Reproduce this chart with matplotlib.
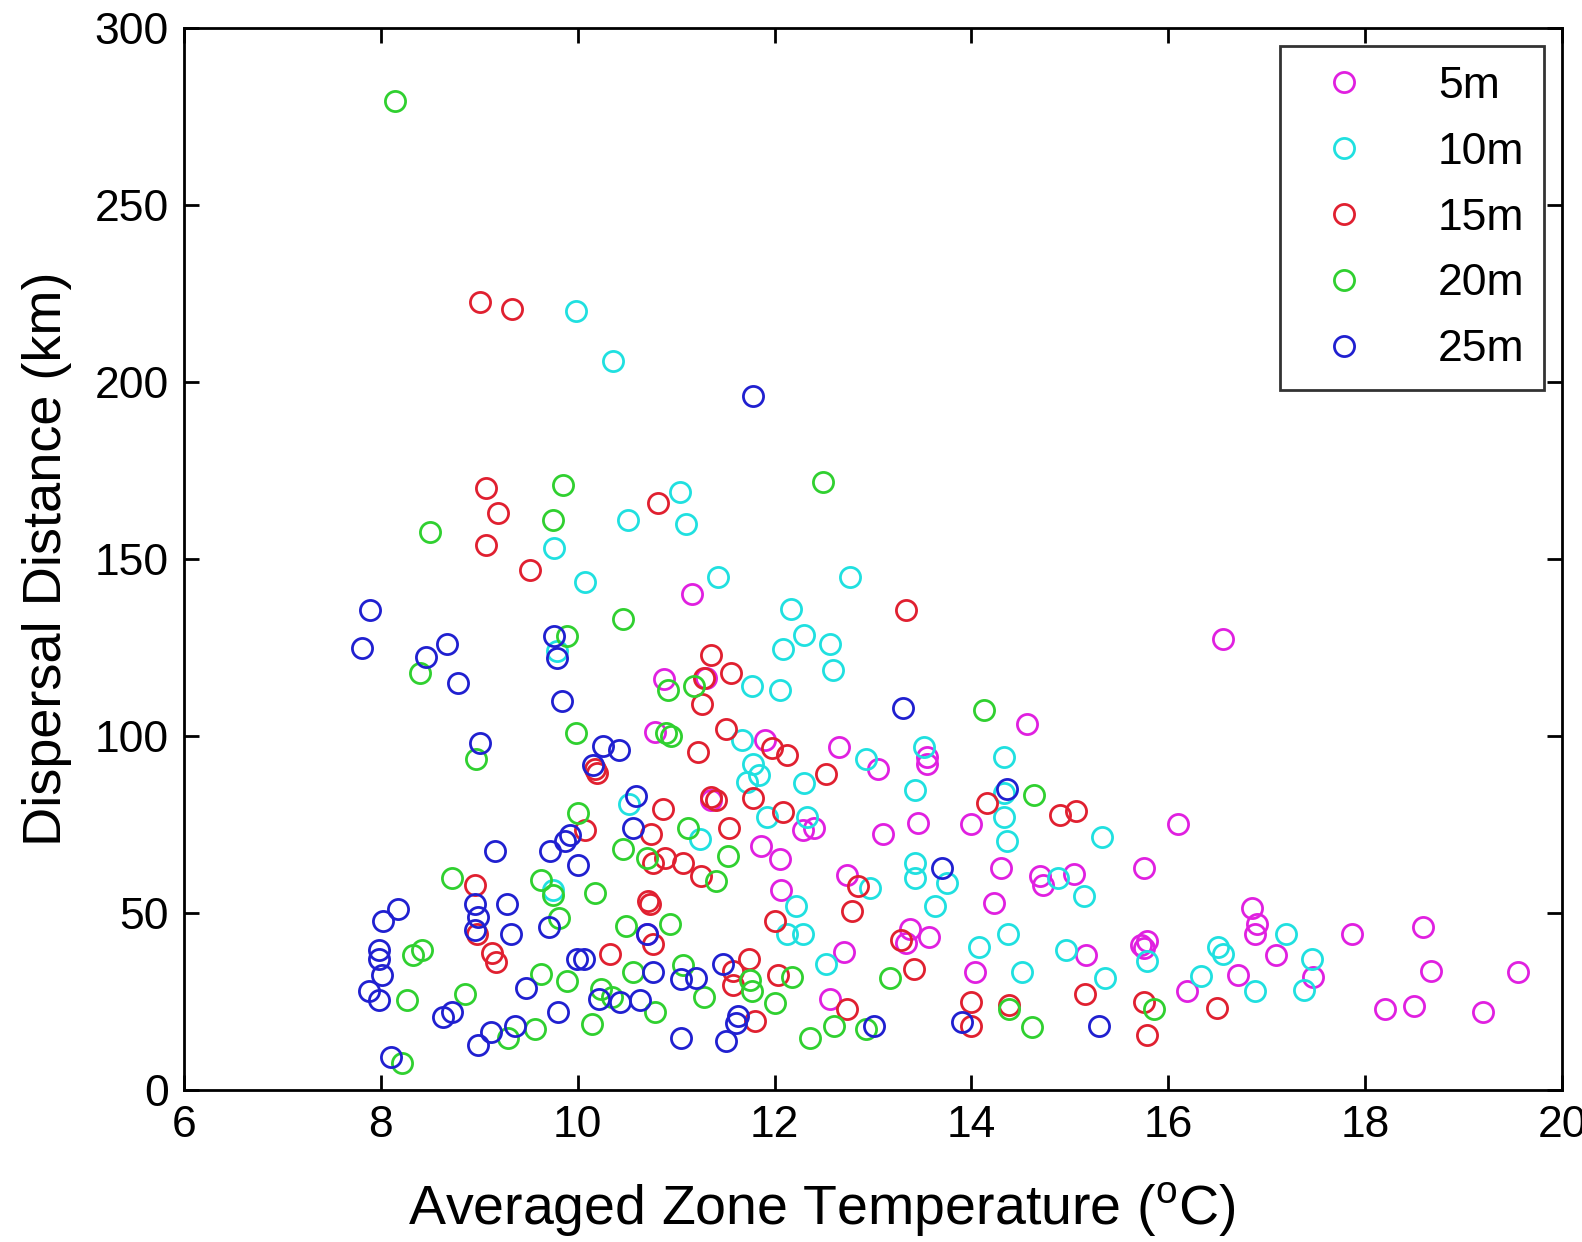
import matplotlib
matplotlib.use("Agg")
from matplotlib import pyplot as plt

plt.rcParams['font.family'] = ['Liberation Sans', 'DejaVu Sans']
plt.rcParams['mathtext.fontset'] = 'custom'
plt.rcParams['mathtext.rm'] = 'Liberation Sans'

# 5m
t5 = [16.56, 11.16, 14.56, 10.88, 10.78, 12.65, 13.05, 13.55, 13.55, 16.1, 13.46, 13.1,
      14.0, 12.29, 12.4, 11.86, 12.05, 12.74, 15.04, 15.75, 14.3, 14.7, 14.73, 12.07,
      14.23, 16.85, 16.9, 16.88, 18.59, 17.87, 13.38, 13.33, 13.57, 12.71, 15.16, 15.72,
      15.78, 15.75, 17.09, 18.67, 19.55, 17.47, 14.04, 16.71, 16.19, 12.56, 18.2, 18.5,
      19.2, 10.7, 11.3, 11.9, 11.35]
d5 = [127.5, 140, 103.5, 116, 101, 97, 90.7, 94, 92, 75, 75.3, 72.4,
      75, 73.3, 74, 69, 65.3, 60.7, 61, 62.7, 62.7, 60.5, 58, 56.5,
      52.8, 51.3, 47, 44, 46, 44, 45.6, 41.6, 43.3, 39, 38, 41,
      42, 40, 38, 33.6, 33.4, 32, 33.4, 32.5, 28, 25.7, 22.8, 23.7,
      22, 44, 116.5, 99, 82]

# 10m
t10 = [9.98, 10.36, 11.04, 11.1, 10.51, 9.76, 10.07, 11.42, 12.77, 12.17, 12.3, 12.09,
       12.56, 12.59, 11.77, 12.05, 13.52, 11.67, 12.3, 11.72, 11.78, 11.84, 12.93, 14.33,
       13.43, 14.33, 14.33, 14.36, 15.33, 11.92, 12.33, 11.24, 10.52, 12.97, 13.43, 13.43,
       13.75, 13.63, 14.88, 15.14, 12.22, 12.29, 12.13, 14.37, 14.08, 14.96, 16.5, 16.56,
       17.2, 15.78, 17.46, 14.51, 15.36, 16.33, 16.88, 17.38, 12.52, 9.75, 9.79]
d10 = [220, 206, 169, 160, 161, 153, 143.5, 145, 145, 136, 128.6, 124.6,
       126, 118.6, 114, 113, 97, 99, 86.7, 87, 92, 89, 93.5, 94,
       84.7, 84, 77, 70.4, 71.6, 77, 77, 71, 80.7, 57, 64, 60,
       58.5, 52, 60, 54.7, 52, 44, 44, 44, 40.5, 39.6, 40.5, 38.5,
       44, 36.5, 37, 33.4, 31.6, 32.2, 28, 28.2, 35.6, 56.5, 124]

# 15m
t15 = [9.01, 9.33, 9.07, 9.19, 9.07, 9.52, 10.82, 13.33, 11.35, 11.28, 11.56, 11.26,
       11.51, 11.97, 12.13, 12.52, 11.22, 10.18, 11.35, 11.4, 11.78, 12.09, 11.54, 10.87,
       10.07, 10.74, 14.16, 14.9, 15.06, 12.85, 11.25, 10.76, 10.89, 11.07, 10.71, 10.73,
       12.79, 12.0, 8.96, 8.98, 9.13, 9.17, 10.33, 10.76, 11.74, 11.58, 11.58, 12.03,
       11.8, 13.28, 13.42, 12.74, 14.0, 14.0, 14.38, 15.15, 15.75, 15.78, 16.49, 10.2]
d15 = [222.5, 220.7, 170, 163, 154, 147, 165.7, 135.5, 123, 116.3, 117.8, 109,
       102, 96.7, 94.7, 89.2, 95.5, 90.7, 82.7, 82, 82.4, 78.4, 73.9, 79.3,
       73.3, 72.4, 81, 77.8, 78.7, 57.6, 60.5, 64.2, 65.6, 64.2, 53.3, 52.5,
       50.5, 47.6, 57.9, 44.2, 38.8, 36.2, 38.5, 41.3, 37.1, 33.6, 29.7, 32.5,
       19.4, 42.5, 34.2, 22.8, 24.8, 18.2, 24, 27, 24.8, 15.4, 23.1, 89.5]

# 20m
t20 = [8.14, 9.85, 12.49, 8.5, 9.75, 10.46, 9.89, 8.4, 10.92, 11.18, 14.13, 10.9,
       9.98, 8.97, 14.64, 10.0, 11.12, 10.46, 11.53, 11.4, 10.7, 8.72, 9.63, 9.75,
       10.18, 9.81, 10.49, 10.94, 8.33, 8.42, 8.27, 8.85, 9.63, 9.89, 10.24, 10.35,
       10.56, 10.78, 11.07, 11.28, 11.77, 11.75, 12.18, 12.0, 12.6, 12.36, 12.93, 13.17,
       14.38, 14.62, 15.85, 9.57, 9.29, 10.14, 8.21, 10.95]
d20 = [279.5, 171, 171.7, 157.7, 161, 132.9, 128.3, 117.8, 113, 114, 107.2, 100.7,
       100.7, 93.5, 83.3, 78.1, 74.1, 68.2, 66.2, 59, 65.6, 59.9, 59.3, 55,
       55.6, 48.5, 46.2, 47, 38.2, 39.6, 25.4, 27, 32.8, 30.8, 28.5, 26.2,
       33.4, 22, 35.4, 26.2, 28, 31, 32, 24.5, 18, 14.8, 17.1, 31.6,
       22.8, 17.7, 22.8, 17.1, 14.8, 18.5, 7.7, 100]

# 25m
t25 = [11.78, 7.89, 7.81, 8.67, 8.46, 8.78, 9.76, 9.79, 9.84, 13.3, 9.01, 10.26,
       10.42, 10.16, 10.59, 14.36, 10.56, 9.16, 9.72, 9.87, 10.0, 13.7, 8.02, 8.17,
       8.96, 9.28, 8.99, 8.96, 9.32, 9.71, 7.98, 7.98, 8.01, 7.88, 7.98, 9.99,
       10.06, 10.7, 10.76, 10.22, 10.43, 10.63, 11.2, 11.05, 11.48, 9.47, 9.8, 8.63,
       8.72, 9.12, 8.99, 9.36, 11.05, 11.51, 11.63, 11.61, 13.01, 13.9, 15.3, 8.1, 9.92]
d25 = [196, 135.7, 124.9, 126, 122.3, 115, 128.3, 122, 109.8, 107.8, 98, 97.2,
       96.1, 91.8, 83, 85, 74, 67.6, 67.6, 70.4, 63.6, 62.7, 47.6, 51,
       52.5, 52.5, 48.8, 45.3, 44.2, 45.9, 39.6, 37, 32.5, 28, 25.4, 37,
       37, 44.2, 33.4, 25.7, 24.8, 25.4, 31.6, 31.4, 35.6, 28.8, 22, 20.5,
       22, 16.5, 12.8, 18, 14.8, 13.7, 21, 19, 18, 19.1, 18.2, 9.4, 72]

labels = ['5m', '10m', '15m', '20m', '25m']
colors = ['#e020e0', '#20e0e0', '#e02030', '#30d030', '#2020d0']
temps = [t5, t10, t15, t20, t25]
dists = [d5, d10, d15, d20, d25]

fig = plt.figure(figsize=(15.82, 12.42), dpi=100)
ax = fig.add_axes([0.1163, 0.1224, 0.8711, 0.8551])

for t, d, c, lab in zip(temps, dists, colors, labels):
    ax.plot(t, d, 'o', mfc='none', mec=c, ms=14.5, mew=2.0, label=lab, ls='none')

ax.set_xlim(6, 20)
ax.set_ylim(0, 300)
ax.set_xticks(range(6, 21, 2))
ax.set_yticks(range(0, 301, 50))
ax.tick_params(direction='in', length=11, width=2, labelsize=32, top=True, right=True, pad=11)
for s in ax.spines.values():
    s.set_linewidth(2)

ax.set_xlabel(r'Averaged Zone Temperature ($^\mathregular{o}$C)', fontsize=40)
ax.xaxis.set_label_coords(0.463, -0.085)
ax.set_ylabel('Dispersal Distance (km)', fontsize=39, labelpad=16)

leg = ax.legend(loc='upper right', fontsize=32, frameon=True, fancybox=False,
                edgecolor='black', borderpad=0.45, labelspacing=0.56, handletextpad=1.1,
                markerfirst=True, borderaxespad=0.4, handlelength=2.0)
leg.get_frame().set_linewidth(2)

fig.savefig('out.png', dpi=100)
